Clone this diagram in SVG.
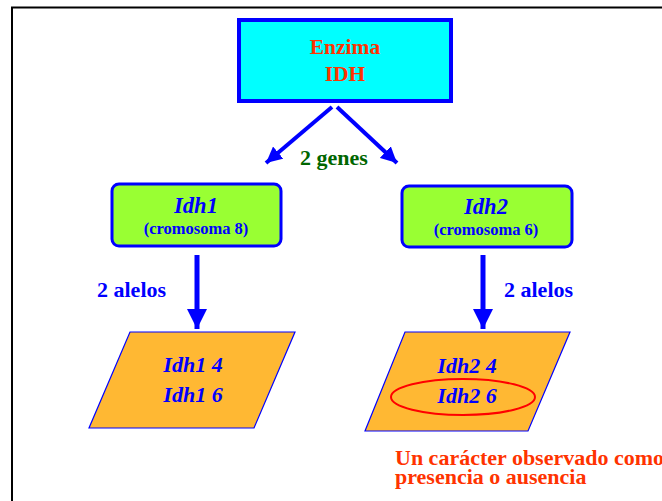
<svg xmlns="http://www.w3.org/2000/svg" width="662" height="501" viewBox="0 0 662 501">
<style>
.serif{font-family:"Liberation Serif","Times New Roman",serif;font-weight:bold}
.blue{fill:#0000FF}
.red{fill:#FF3300}
.gene{fill:#99FF33;stroke:#0000FF;stroke-width:3}
.allele{fill:#FFB833;stroke:#0000FF;stroke-width:1.2}
.conn{stroke:#0000FF;fill:none}
</style>
<defs>
<marker id="ah" markerWidth="4" markerHeight="4" refX="4" refY="2" orient="auto" markerUnits="strokeWidth">
<path d="M0,0 L4,2 L0,4 Z" fill="#0000FF"/>
</marker>
</defs>
<rect x="12" y="7.5" width="700" height="520" fill="none" stroke="#000" stroke-width="2"/>
<g id="enzima">
<rect x="239" y="20" width="212" height="81" fill="#00FFFF" stroke="#0000FF" stroke-width="4"/>
<text class="serif red" x="345" y="54" font-size="21.5" text-anchor="middle">Enzima</text>
<text class="serif red" x="345" y="81" font-size="21.5" text-anchor="middle">IDH</text>
</g>
<g id="connectors">
<line class="conn" x1="332" y1="107" x2="266" y2="163" stroke-width="4" marker-end="url(#ah)"/>
<line class="conn" x1="337" y1="107" x2="397" y2="163" stroke-width="4" marker-end="url(#ah)"/>
<line class="conn" x1="197" y1="255" x2="197" y2="329" stroke-width="5" marker-end="url(#ah)"/>
<line class="conn" x1="483" y1="255" x2="483" y2="329" stroke-width="5" marker-end="url(#ah)"/>
<text class="serif" x="334" y="165" font-size="22" text-anchor="middle" fill="#006600">2 genes</text>
<text class="serif blue" x="97" y="297" font-size="22">2 alelos</text>
<text class="serif blue" x="504" y="297" font-size="22">2 alelos</text>
</g>
<g id="idh1">
<rect class="gene" x="112" y="184" width="169" height="62" rx="7"/>
<text class="serif blue" x="196" y="213" font-size="22.5" font-style="italic" text-anchor="middle">Idh1</text>
<text class="serif blue" x="196" y="234" font-size="16.5" text-anchor="middle">(cromosoma 8)</text>
</g>
<g id="idh2">
<rect class="gene" x="402" y="186" width="170" height="61" rx="7"/>
<text class="serif blue" x="486" y="214" font-size="22.5" font-style="italic" text-anchor="middle">Idh2</text>
<text class="serif blue" x="486" y="235" font-size="16.5" text-anchor="middle">(cromosoma 6)</text>
</g>
<g id="alelos1">
<polygon class="allele" points="130,332 295,332 254,428 89,428"/>
<text class="serif blue" x="193" y="372" font-size="22" font-style="italic" text-anchor="middle">Idh1 4</text>
<text class="serif blue" x="193" y="402" font-size="22" font-style="italic" text-anchor="middle">Idh1 6</text>
</g>
<g id="alelos2">
<polygon class="allele" points="405,332 570,332 528,431 365,431"/>
<text class="serif blue" x="467" y="373" font-size="22" font-style="italic" text-anchor="middle">Idh2 4</text>
<text class="serif blue" x="467" y="403" font-size="22" font-style="italic" text-anchor="middle">Idh2 6</text>
<ellipse cx="463" cy="397" rx="72" ry="18" fill="none" stroke="#FF0000" stroke-width="2"/>
</g>
<g id="nota">
<text class="serif red" x="395" y="465" font-size="22">Un carácter observado como</text>
<text class="serif red" x="395" y="484" font-size="22">presencia o ausencia</text>
</g>
</svg>
